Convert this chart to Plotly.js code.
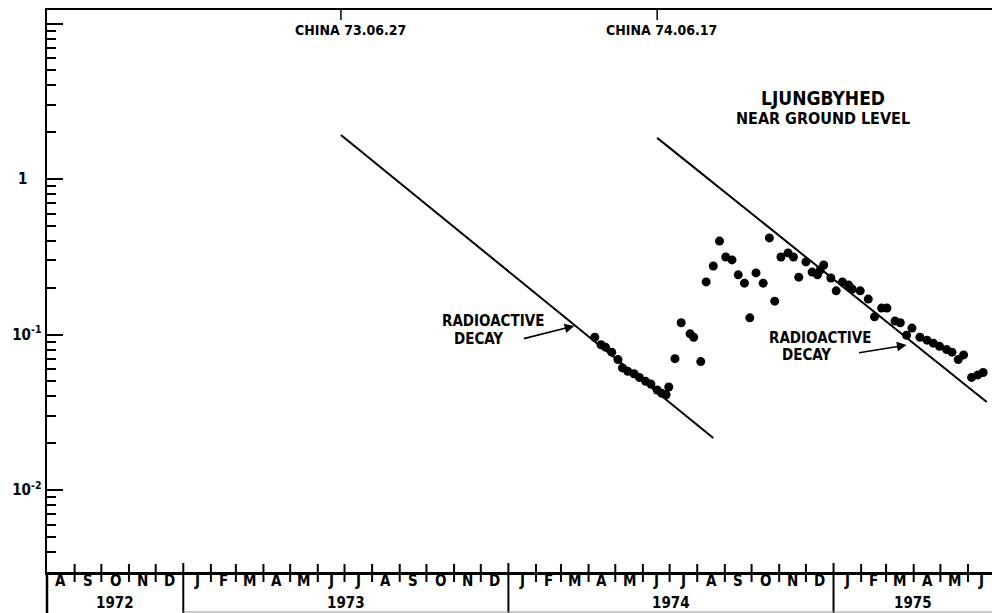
<!DOCTYPE html>
<html><head><meta charset="utf-8">
<script src="https://cdn.plot.ly/plotly-3.0.1.min.js"></script>
<style>html,body{margin:0;padding:0;background:#fff;}#chart{width:992px;height:613px;}</style>
</head><body><div id="chart"></div>
<script>
// ---- data ----
const monthLabels = ['A','S','O','N','D',
  'J','F','M','A','M','J','J','A','S','O','N','D',
  'J','F','M','A','M','J','J','A','S','O','N','D',
  'J','F','M','A','M','J'];
const yearLabels = ['1972','1973','1974','1975'];
const yearStarts = ['1972-08-01','1973-01-01','1974-01-01','1975-01-01'];
const yTickVals = [10, 1, 0.1, 0.01];
const yTickText = ['', '1\u00a0\u00a0\u00a0', '10<sup>-1</sup>', '10<sup>-2</sup>'];

const obsDates = [
 '1974-04-08','1974-04-15','1974-04-20','1974-04-27','1974-05-04','1974-05-09','1974-05-15','1974-05-22',
 '1974-05-28','1974-06-04','1974-06-10','1974-06-17','1974-06-22','1974-06-27','1974-06-30',
 '1974-07-07','1974-07-14','1974-07-24','1974-07-28','1974-08-05','1974-08-11','1974-08-19','1974-08-26',
 '1974-09-02','1974-09-09','1974-09-16','1974-09-23','1974-09-29','1974-10-06','1974-10-14','1974-10-21',
 '1974-10-27','1974-11-03','1974-11-11','1974-11-17','1974-11-23','1974-12-01','1974-12-08','1974-12-14',
 '1974-12-17','1974-12-21','1974-12-29','1975-01-04','1975-01-11','1975-01-18','1975-01-22','1975-01-31',
 '1975-02-09','1975-02-16','1975-02-24','1975-03-02','1975-03-11','1975-03-17','1975-03-24','1975-03-30',
 '1975-04-08','1975-04-16','1975-04-23','1975-04-30','1975-05-08','1975-05-14','1975-05-21','1975-05-27',
 '1975-06-05','1975-06-12','1975-06-18'];
const obsValues = [
 0.096,0.086,0.083,0.077,0.069,0.061,0.058,0.056,
 0.053,0.050,0.048,0.044,0.042,0.041,0.046,
 0.070,0.119,0.101,0.096,0.067,0.218,0.276,0.399,
 0.315,0.302,0.242,0.214,0.128,0.249,0.214,0.418,
 0.164,0.315,0.335,0.315,0.234,0.293,0.252,0.242,
 0.260,0.280,0.231,0.191,0.218,0.208,0.196,0.191,
 0.169,0.130,0.148,0.148,0.122,0.119,0.099,0.110,
 0.096,0.092,0.088,0.084,0.080,0.077,0.069,0.074,
 0.053,0.055,0.057];

const decay1Dates = ['1973-06-27','1974-08-19'];
const decay1Values = [1.92, 0.0216];
const decay2Dates = ['1974-06-17','1975-06-22'];
const decay2Values = [1.84, 0.0368];

const releaseLabels = ['CHINA 73.06.27','CHINA 74.06.17'];
const arrowTargetDates = ['1974-03-16','1975-03-24'];
const arrowTargetValues = [0.1135, 0.0856];

const axisStart = '1972-08-01';
const axisEnd = '1975-06-27 22:00';

// ---- drawing ----
const FONT = '"Liberation Sans Narrow", "DejaVu Sans Condensed", "Arial Narrow", sans-serif';
const iso = d => d.toISOString().slice(0,19).replace('T',' ');
const monthStarts = [];
for (let i = 0; i <= monthLabels.length; i++) monthStarts.push(new Date(Date.UTC(1972, 7 + i, 1)));
const monthMids = monthLabels.map((_, i) => iso(new Date((monthStarts[i].getTime() + monthStarts[i+1].getTime()) / 2)));

const minorVals = [];
[0.001, 0.01, 0.1, 1].forEach(dec => { for (let k = 2; k <= 9; k++) minorVals.push(+(dec * k).toPrecision(3)); });

const shapes = [];
for (let i = 1; i < monthLabels.length; i++) {
  const isYear = monthStarts[i].getUTCMonth() === 0;
  shapes.push({type:'line', xref:'x', yref:'paper', x0: iso(monthStarts[i]), x1: iso(monthStarts[i]),
    ysizemode:'pixel', yanchor:0, y0: isYear ? -41 : -10, y1: isYear ? 9 : 8,
    line:{color:'#000', width:2}});
}
shapes.push({type:'line', xref:'paper', yref:'paper', x0:0, x1:0, ysizemode:'pixel', yanchor:0, y0:-41, y1:0,
  line:{color:'#000', width:2.5}});
shapes.push({type:'line', xref:'x', yref:'paper', x0: yearStarts[1], x1: axisEnd, ysizemode:'pixel', yanchor:0, y0:-40, y1:-40,
  line:{color:'#999', width:1}});
[decay1Dates[0], decay2Dates[0]].forEach(d => shapes.push({type:'line', xref:'x', yref:'paper', x0:d, x1:d,
  ysizemode:'pixel', yanchor:1, y0:0, y1:-10, line:{color:'#000', width:1.5}}));

const annotations = [];
monthLabels.forEach((t, i) => annotations.push({xref:'x', yref:'paper', x: monthMids[i], y:0, yanchor:'middle', xanchor:'center',
  yshift:-9, text:'<b>' + t + '</b>', showarrow:false, font:{family:FONT, size:15, color:'#000'}}));
const yearEnds = yearStarts.slice(1).concat([axisEnd]);
const toMs = s => new Date(s.length > 10 ? s.replace(' ', 'T') + ':00Z' : s + 'T00:00:00Z').getTime();
yearLabels.forEach((t, i) => {
  annotations.push({xref:'x', yref:'paper', x: iso(new Date((toMs(yearStarts[i]) + toMs(yearEnds[i])) / 2)), y:0,
    yanchor:'middle', xanchor:'center', yshift:-31,
    text:'<b>' + t + '</b>', showarrow:false, font:{family:FONT, size:15, color:'#000'}});
});
annotations.push({xref:'x', yref:'paper', x: decay1Dates[0], y:1, yanchor:'middle', xanchor:'center', yshift:-20, xshift:10,
  text:'<b>' + releaseLabels[0] + '</b>', showarrow:false, font:{family:FONT, size:14, color:'#000'}});
annotations.push({xref:'x', yref:'paper', x: decay2Dates[0], y:1, yanchor:'middle', xanchor:'center', yshift:-20, xshift:4,
  text:'<b>' + releaseLabels[1] + '</b>', showarrow:false, font:{family:FONT, size:14, color:'#000'}});
const px2paper = (px, py) => ({x: (px - 47) / 945, y: (572 - py) / 562});
[[823, 98, 'LJUNGBYHED', 19], [823, 119, 'NEAR GROUND LEVEL', 16],
 [493, 321, 'RADIOACTIVE', 15], [478, 339, 'DECAY', 15], [820, 338, 'RADIOACTIVE', 15], [806, 355, 'DECAY', 15]]
 .forEach(([px, py, t, sz]) => {
  const p = px2paper(px, py);
  annotations.push({xref:'paper', yref:'paper', x:p.x, y:p.y, xanchor:'center', yanchor:'middle',
    text:'<b>' + t + '</b>', showarrow:false, font:{family:FONT, size:sz, color:'#000'}});
});
[[-52, 13], [-49, 8]].forEach(([ax, ay], i) => {
  annotations.push({xref:'x', yref:'y', x: arrowTargetDates[i], y: Math.log10(arrowTargetValues[i]),
    text:' ', showarrow:true, ax:ax, ay:ay, arrowhead:2, arrowsize:1.2, arrowwidth:1.6, arrowcolor:'#000', standoff:0,
    font:{size:1}});
});

const traces = [
  {x: decay1Dates, y: decay1Values, mode:'lines', line:{color:'#000', width:2}, hoverinfo:'skip'},
  {x: decay2Dates, y: decay2Values, mode:'lines', line:{color:'#000', width:2}, hoverinfo:'skip'},
  {x: obsDates, y: obsValues, mode:'markers', marker:{color:'#000', size:9}}
];

const layout = {
  width: 992, height: 613,
  margin: {l:47, r:0, t:10, b:41},
  paper_bgcolor:'#fff', plot_bgcolor:'#fff',
  showlegend:false,
  xaxis: {type:'date', range:[axisStart, axisEnd], showgrid:false, zeroline:false,
    showline:true, mirror:true, linecolor:'#000', linewidth:2.5,
    tickmode:'array', tickvals: monthMids, ticktext: monthLabels.map(() => ''), ticks:'', showticklabels:false},
  yaxis: {type:'log', range:[-2.527, 1.087], showgrid:false, zeroline:false,
    showline:true, linecolor:'#000', linewidth:2.5,
    tickmode:'array', tickvals: yTickVals, ticktext: yTickText, ticks:'inside', ticklen:16, tickwidth:2, tickcolor:'#000',
    tickfont:{family:FONT, size:15, color:'#000', weight:'bold'},
    minor:{tickmode:'array', tickvals: minorVals, ticks:'inside', ticklen:9, tickwidth:2, tickcolor:'#000'}},
  shapes: shapes,
  annotations: annotations
};

Plotly.newPlot('chart', traces, layout, {displayModeBar:false, staticPlot:true});
</script>
</body></html>
